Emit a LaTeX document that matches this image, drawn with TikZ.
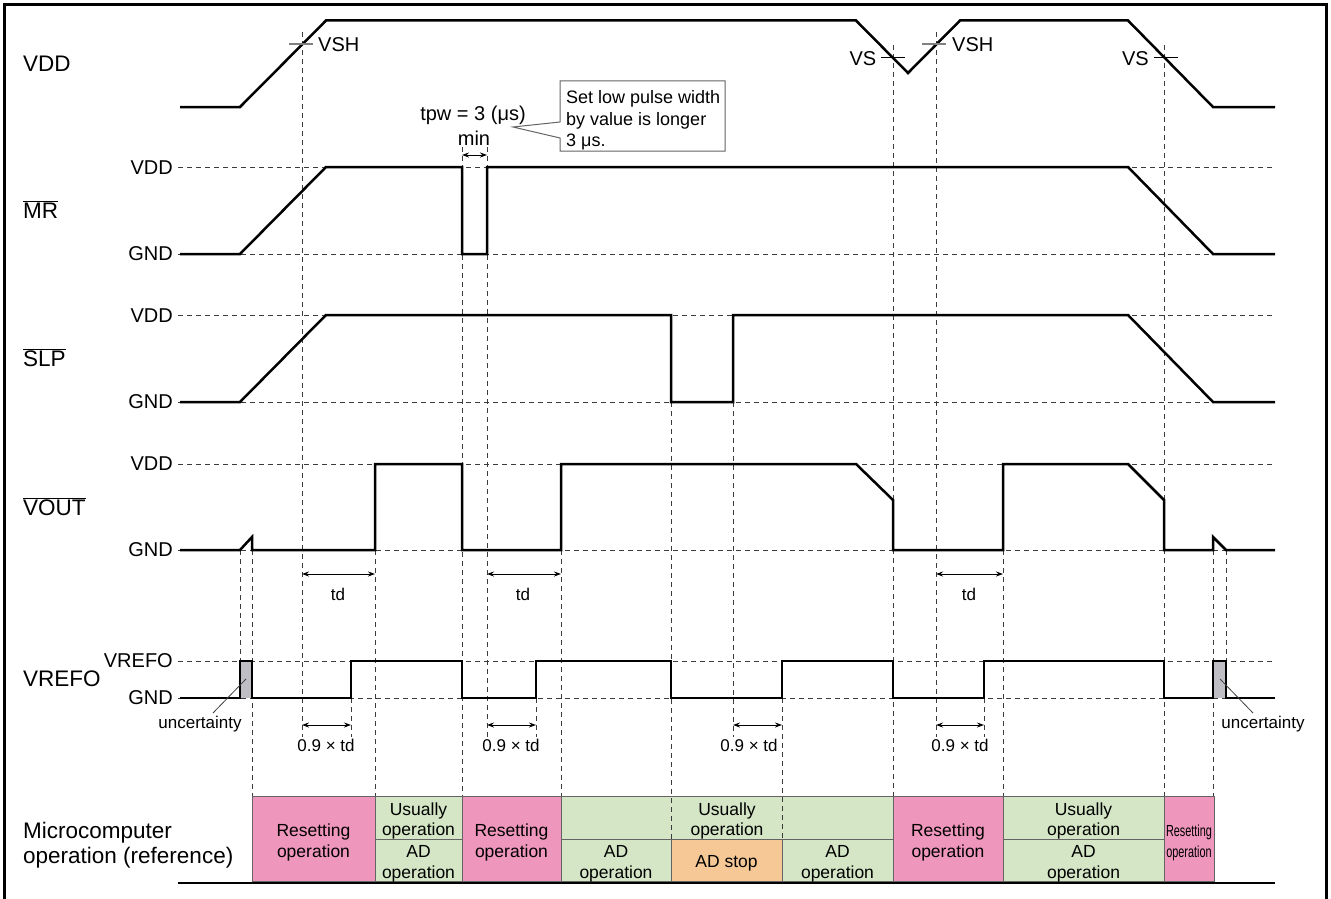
\documentclass[tikz,border=0pt]{standalone}
\usepackage{graphicx}
\usepackage{fontspec}
\setmainfont{Liberation Sans}
\usetikzlibrary{arrows.meta}
\definecolor{pinkc}{RGB}{238,150,187}
\definecolor{greenc}{RGB}{212,230,197}
\definecolor{orangec}{RGB}{245,200,150}
\definecolor{gridc}{RGB}{60,60,60}
\definecolor{boxc}{RGB}{100,100,100}
\definecolor{uncc}{RGB}{190,190,196}
\newcommand\sigfont{\fontsize{22.5}{26}\selectfont}
\newcommand\lvlfont{\fontsize{20}{24}\selectfont}
\newcommand\smfont{\fontsize{17}{20}\selectfont}
\newcommand\cellfont{\fontsize{17.5}{21}\selectfont}
\newcommand\callfont{\fontsize{18}{21.5}\selectfont}
\begin{document}
\begin{tikzpicture}[x=1pt,y=-1pt,
  sig/.style={line width=2.5pt, line join=miter, line cap=butt},
  grd/.style={draw=gridc, line width=1pt, dash pattern=on 5pt off 4pt},
  dimarr/.style={line width=1pt, {Stealth[length=7pt,width=5pt]}-{Stealth[length=7pt,width=5pt]}},
  sl/.style={font=\sigfont, anchor=base west, inner sep=0},
  ll/.style={font=\lvlfont, anchor=base east, inner sep=0},
  sm/.style={font=\smfont, anchor=base, inner sep=0},
  ct/.style={font=\cellfont, anchor=base, inner sep=0},
  cl/.style={font=\callfont, anchor=base west, inner sep=0},
  cellb/.style={draw=boxc, line width=0.9pt}]
\useasboundingbox (0,0) rectangle (1331,899);

% frame
\draw[line width=2.5pt] (4.5,910) -- (4.5,4.5) -- (1326.5,4.5) -- (1326.5,910);

% table fills
\path[fill=pinkc] (252,796) rectangle (375,881);
\path[fill=greenc] (375,796) rectangle (462,881);
\path[fill=pinkc] (462,796) rectangle (561,881);
\path[fill=greenc] (561,796) rectangle (893,881);
\path[fill=orangec] (671,839) rectangle (782,881);
\path[fill=pinkc] (893,796) rectangle (1003,881);
\path[fill=greenc] (1003,796) rectangle (1164,881);
\path[fill=pinkc] (1164,796) rectangle (1214,881);

% horizontal level lines
\foreach \yy in {167,254,315,402,464,550,661,698}
  \draw[grd] (178,\yy) -- (1275,\yy);

% vertical dashed lines
\foreach \xx/\ya/\yb in {240/550/661, 252/550/796, 302/32/737, 375/550/796,
  351/698/737, 462/147/796, 487/147/737, 536/698/737, 561/550/796,
  671/402/839, 733/402/737, 782/698/839, 893/45/796, 936/32/737,
  984/698/737, 1003/550/796, 1164/45/796, 1213/550/796, 1226/550/661}
  \draw[grd] (\xx,\ya) -- (\xx,\yb);

% table borders
\draw[cellb] (252,796) rectangle (375,881);
\draw[cellb] (375,796) rectangle (462,839);
\draw[cellb] (375,839) rectangle (462,881);
\draw[cellb] (462,796) rectangle (561,881);
\draw[cellb] (561,796) rectangle (893,839);
\draw[cellb] (561,839) rectangle (671,881);
\draw[cellb] (671,839) rectangle (782,881);
\draw[cellb] (782,839) rectangle (893,881);
\draw[cellb] (893,796) rectangle (1003,881);
\draw[cellb] (1003,796) rectangle (1164,839);
\draw[cellb] (1003,839) rectangle (1164,881);
\draw[cellb] (1164,796) rectangle (1214,881);
\draw[line width=2.5pt] (178,883) -- (1275,883);

% signals
\draw[sig] (180,107) -- (240,107) -- (326,20.5) -- (856,20.5) -- (908,73) -- (960,20.5)
  -- (1128,20.5) -- (1213,107) -- (1275,107);
\draw[sig] (180,254) -- (240,254) -- (326,167) -- (462,167) -- (462,254) -- (487,254)
  -- (487,167) -- (1128,167) -- (1213,254) -- (1275,254);
\draw[sig] (180,402) -- (240,402) -- (326,315) -- (671,315) -- (671,402) -- (733,402)
  -- (733,315) -- (1128,315) -- (1213,402) -- (1275,402);
\draw[sig] (180,550) -- (240,550) -- (252,537) -- (252,550) -- (375,550) -- (375,464)
  -- (462,464) -- (462,550) -- (561,550) -- (561,464) -- (856,464) -- (893,500)
  -- (893,550) -- (1003,550) -- (1003,464) -- (1128,464) -- (1164,500) -- (1164,550)
  -- (1213,550) -- (1213,537) -- (1226,550) -- (1275,550);
\path[fill=uncc] (240,661) rectangle (252,698);
\path[fill=uncc] (1213,661) rectangle (1226,698);
\draw[sig] (180,698) -- (240,698) -- (240,661) -- (252,661) -- (252,698) -- (351,698)
  -- (351,661) -- (462,661) -- (462,698) -- (536,698) -- (536,661) -- (671,661)
  -- (671,698) -- (782,698) -- (782,661) -- (893,661) -- (893,698) -- (984,698)
  -- (984,661) -- (1164,661) -- (1164,698) -- (1213,698) -- (1213,661) -- (1226,661)
  -- (1226,698) -- (1275,698);

% threshold ticks
\draw[gray, line width=1.2pt] (289,44) -- (313,44);
\draw[gray, line width=1.2pt] (922,44) -- (946,44);
\draw[line width=1pt] (881,57.5) -- (905,57.5);
\draw[line width=1pt] (1154,57.5) -- (1178,57.5);
\node[font=\lvlfont, anchor=base west, inner sep=0] (vsh1) at (318,51.7) {VSH};
\node[font=\lvlfont, anchor=base west, inner sep=0] (vsh2) at (952,51.7) {VSH};
\node[ll] (vs1) at (876.5,66) {VS};
\node[ll] (vs2) at (1149,66) {VS};

% signal labels
\node[sl] (lvdd) at (23,71.7) {VDD};
\node[sl] (lmr) at (23,218.3) {$\overline{\hbox{MR}}$};
\node[sl] (lslp) at (23,366.3) {$\overline{\hbox{SLP}}$};
\node[sl] (lvout) at (23,515) {$\overline{\hbox{VOUT}}$};
\node[sl] (lvref) at (23,686.7) {VREFO};
\node[sl] (lmc1) at (23,838) {Microcomputer};
\node[sl] (lmc2) at (23,863) {operation (reference)};

% level labels
\node[ll] (a1) at (173,174) {VDD};
\node[ll] (a2) at (173,260.7) {GND};
\node[ll] (a3) at (173,322) {VDD};
\node[ll] (a4) at (173,408.7) {GND};
\node[ll] (a5) at (173,470.7) {VDD};
\node[ll] (a6) at (173,556.7) {GND};
\node[ll] (a7) at (173,667.3) {VREFO};
\node[ll] (a8) at (173,704.3) {GND};

% tpw callout
\node[font=\lvlfont, anchor=base, inner sep=0] (tpw) at (473,120) {tpw = 3 (μs)};
\node[font=\lvlfont, anchor=base, inner sep=0] (tmin) at (474,145) {min};
\coordinate (m1) at (462,155);
\coordinate (m2) at (487,155);
\draw[dimarr] (m1) -- (m2);
\draw[boxc, line width=1pt, fill=white] (560,81) -- (725,81) -- (725,151) -- (560,151)
  -- (560,138) -- (513,127) -- (560,122) -- cycle;
\node[cl] (c1) at (566,103.3) {Set low pulse width};
\node[cl] (c2) at (566,125) {by value is longer};
\node[cl] (c3) at (566,146.5) {3 μs.};

% td arrows
\coordinate (t1a) at (302,574); \coordinate (t1b) at (375,574);
\coordinate (t2a) at (487,574); \coordinate (t2b) at (561,574);
\coordinate (t3a) at (936,574); \coordinate (t3b) at (1003,574);
\draw[dimarr] (t1a) -- (t1b);
\draw[dimarr] (t2a) -- (t2b);
\draw[dimarr] (t3a) -- (t3b);
\node[sm] (td1) at (338,600.7) {td};
\node[sm] (td2) at (523,600.7) {td};
\node[sm] (td3) at (969,600.7) {td};

% 0.9 td arrows
\coordinate (u1a) at (302,725); \coordinate (u1b) at (351,725);
\coordinate (u2a) at (487,725); \coordinate (u2b) at (536,725);
\coordinate (u3a) at (733,725); \coordinate (u3b) at (782,725);
\coordinate (u4a) at (936,725); \coordinate (u4b) at (984,725);
\draw[dimarr] (u1a) -- (u1b);
\draw[dimarr] (u2a) -- (u2b);
\draw[dimarr] (u3a) -- (u3b);
\draw[dimarr] (u4a) -- (u4b);
\node[sm] (n1) at (326,751.7) {0.9 × td};
\node[sm] (n2) at (511,751.7) {0.9 × td};
\node[sm] (n3) at (749,751.7) {0.9 × td};
\node[sm] (n4) at (960,751.7) {0.9 × td};

% uncertainty
\node[sm] (unc1) at (200,728) {uncertainty};
\node[sm] (unc2) at (1263,728) {uncertainty};
\draw[line width=0.8pt, black!75] (246,679) -- (213,713);
\draw[line width=0.8pt, black!75] (1220,679) -- (1253,713);

% table texts
\node[ct] (r1a) at (313.5,836) {Resetting};
\node[ct] (r1b) at (313.5,857) {operation};
\node[ct] (u1t) at (418.5,815) {Usually};
\node[ct] (u1u) at (418.5,835.5) {operation};
\node[ct] (u1v) at (418.5,857) {AD};
\node[ct] (u1w) at (418.5,878) {operation};
\node[ct] (r2a) at (511.5,836) {Resetting};
\node[ct] (r2b) at (511.5,857) {operation};
\node[ct] (bgt) at (727,815) {Usually};
\node[ct] (bgu) at (727,835.5) {operation};
\node[ct] (ad1a) at (616,857) {AD};
\node[ct] (ad1b) at (616,878) {operation};
\node[ct] (ads) at (726.5,867) {AD stop};
\node[ct] (ad2a) at (837.5,857) {AD};
\node[ct] (ad2b) at (837.5,878) {operation};
\node[ct] (r3a) at (948,836) {Resetting};
\node[ct] (r3b) at (948,857) {operation};
\node[ct] (u3t) at (1083.5,815) {Usually};
\node[ct] (u3u) at (1083.5,835.5) {operation};
\node[ct] (u3v) at (1083.5,857) {AD};
\node[ct] (u3w) at (1083.5,878) {operation};
\node[anchor=base, inner sep=0] (r4a) at (1189,836) {\scalebox{0.68}[1]{\fontsize{16}{18}\selectfont Resetting}};
\node[anchor=base, inner sep=0] (r4b) at (1189,857) {\scalebox{0.68}[1]{\fontsize{16}{18}\selectfont operation}};
\end{tikzpicture}
\end{document}
